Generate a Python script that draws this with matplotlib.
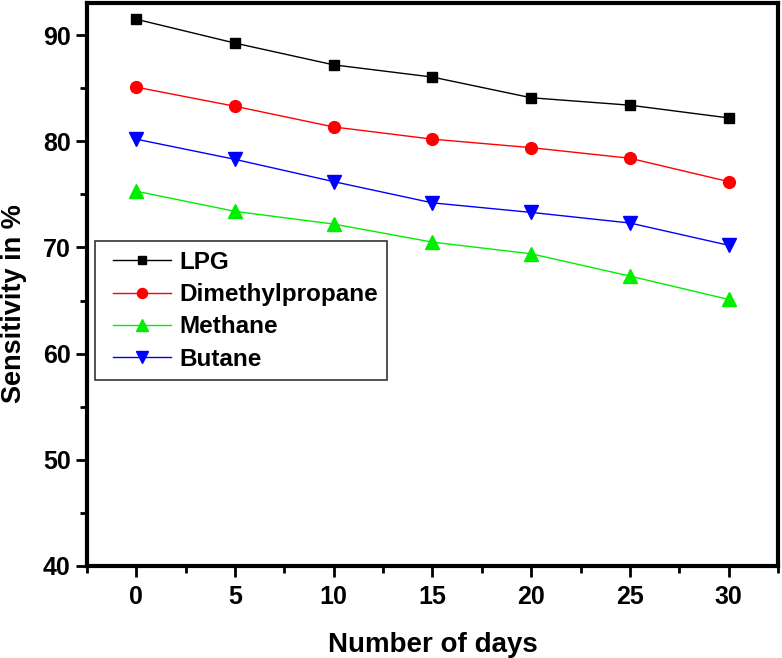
import matplotlib
matplotlib.use("Agg")
import matplotlib.pyplot as plt
from matplotlib.legend_handler import HandlerLine2D

days = [0, 5, 10, 15, 20, 25, 30]
lpg = [91.5, 89.25, 87.2, 86.05, 84.1, 83.4, 82.2]
dmp = [85.1, 83.3, 81.35, 80.2, 79.4, 78.4, 76.2]
methane = [75.3, 73.4, 72.2, 70.5, 69.4, 67.3, 65.1]
butane = [80.2, 78.3, 76.2, 74.2, 73.3, 72.3, 70.2]

plt.rcParams['font.family'] = ['Liberation Sans', 'DejaVu Sans']
plt.rcParams['font.weight'] = 'bold'

fig = plt.figure(figsize=(7.82, 6.58), dpi=100)
ax = fig.add_axes([0.111, 0.140, 0.884, 0.855])

ax.plot(days, lpg, color='black', marker='s', ms=7.5, lw=1, label='LPG')
ax.plot(days, dmp, color='red', marker='o', ms=8.5, lw=1, label='Dimethylpropane')
ax.plot(days, methane, color='#00ee00', marker='^', ms=10, lw=1, label='Methane')
ax.plot(days, butane, color='blue', marker='v', ms=10, lw=1, label='Butane')

ax.set_xlim(-2.5, 32.5)
ax.set_ylim(40, 93)
ax.set_xticks(days)
ax.set_xticks([-2.5, 2.5, 7.5, 12.5, 17.5, 22.5, 27.5, 32.5], minor=True)
ax.set_yticks([40, 50, 60, 70, 80, 90])
ax.set_yticks([45, 55, 65, 75, 85], minor=True)
ax.tick_params(which='major', direction='out', length=8, width=2, labelsize=18)
ax.tick_params(axis='x', which='major', pad=6)
ax.tick_params(which='minor', direction='out', length=5, width=2)
for s in ax.spines.values():
    s.set_linewidth(3)
for lab in ax.get_xticklabels() + ax.get_yticklabels():
    lab.set_fontweight('bold')

ax.set_xlabel('Number of days', fontsize=20, fontweight='bold', labelpad=16)
ax.set_ylabel('Sensitivity in %', fontsize=19.5, fontweight='bold')
ax.yaxis.set_label_coords(-0.086, 0.467)

hmap = {ln: HandlerLine2D(xpad=0.34) for ln in ax.get_lines()}
leg = ax.legend(loc='upper left', bbox_to_anchor=(0.0116, 0.577), borderaxespad=0,
                frameon=True, fancybox=False, edgecolor='black', handlelength=2.73,
                handletextpad=0.33, borderpad=0.4, labelspacing=0.38, markerscale=0.85,
                handler_map=hmap, prop={'weight': 'bold', 'size': 17.5})
leg.get_frame().set_linewidth(1.2)

fig.savefig('out.png', dpi=100)
